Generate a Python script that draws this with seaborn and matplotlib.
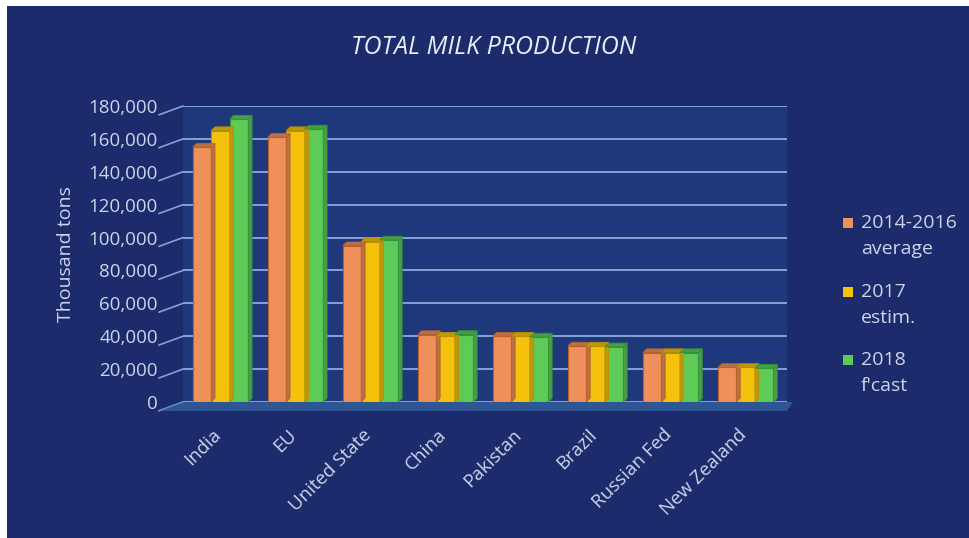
import matplotlib
matplotlib.use("Agg")
import matplotlib.pyplot as plt
from matplotlib.patches import Polygon, Rectangle
from matplotlib.lines import Line2D
from matplotlib.transforms import ScaledTranslation
import matplotlib.colors as mcolors
import seaborn as sns
import pandas as pd

# Milk production, thousand tons
countries = ["India", "EU", "United State", "China", "Pakistan", "Brazil",
             "Russian Fed", "New Zealand"]
avg_2014_2016 = [155000, 161000, 95000, 41000, 40000, 34000, 30000, 21000]
estim_2017 = [165000, 165000, 97500, 40000, 40000, 34000, 30000, 21000]
fcast_2018 = [172000, 166000, 98500, 41000, 39500, 33500, 30000, 20500]
series_labels = ["2014-2016\naverage", "2017\nestim.", "2018\nf'cast"]
yticks = [0, 20000, 40000, 60000, 80000, 100000, 120000, 140000, 160000, 180000]

colors = ["#ef905a", "#f4c20d", "#5ecb58"]
edge_colors = ["#b8602e", "#b88f00", "#34963a"]

df = pd.DataFrame({
    "country": countries * 3,
    "value": avg_2014_2016 + estim_2017 + fcast_2018,
    "series": [series_labels[0]] * 8 + [series_labels[1]] * 8 + [series_labels[2]] * 8,
})

sns.set_theme(style="white")
plt.rcParams["font.family"] = ["Open Sans", "DejaVu Sans"]

BG = "#1b2b6b"
WALL = "#1f387c"
GRID = "#84a2d6"
TXT = "#cdd4ea"

fig = plt.figure(figsize=(9.69, 5.38), dpi=100, facecolor="white")
# dark panel with a thin white margin on top and left
fig.patches.append(Rectangle((7 / 969, 0), 1 - 7 / 969, 1 - 6 / 538,
                             transform=fig.transFigure, facecolor=BG,
                             edgecolor="none", zorder=-10))

ax = fig.add_axes([183 / 969, 136 / 538, 604 / 969, 296 / 538])
ax.set_facecolor(WALL)

sns.barplot(data=df, x="country", y="value", hue="series", order=countries,
            hue_order=series_labels, palette=colors, width=0.74,
            saturation=1, legend=False, ax=ax, zorder=3)

ax.set_ylim(0, 180000)
ax.set_xlim(-0.5, 7.55)
ax.set_yticks(yticks)
ax.set_yticklabels([f"{v:,}" for v in yticks], color=TXT, fontsize=13.5)
ax.tick_params(axis="y", length=0, pad=18)
ax.tick_params(axis="x", length=0, pad=17)
shift = ScaledTranslation(-6 / 72, 0, fig.dpi_scale_trans)
for lab in ax.get_xticklabels():
    lab.set_rotation(45)
    lab.set_ha("right")
    lab.set_rotation_mode("anchor")
    lab.set_color(TXT)
    lab.set_fontsize(13.5)
    lab.set_transform(lab.get_transform() + shift)

ax.set_xlabel("")
ax.set_ylabel("Thousand tons", color=TXT, fontsize=14, labelpad=10)
for s in ax.spines.values():
    s.set_visible(False)

# horizontal gridlines plus short perspective strokes on the left
for v in yticks:
    ax.axhline(v, color=GRID, lw=1.4, zorder=1)
    yf = v / 180000
    ax.add_line(Line2D([-0.04, 0.0], [yf - 0.03, yf], transform=ax.transAxes,
                       color=GRID, lw=1.2, clip_on=False, zorder=1))

# floor band under the bars
ax.add_patch(Polygon([(-0.04, -0.03), (1.0, -0.03), (1.01, 0.0), (0.0, 0.0)],
                     closed=True, transform=ax.transAxes, facecolor="#33609f",
                     edgecolor="none", alpha=0.8, clip_on=False, zorder=2))

# depth faces for each bar
dx, dy = 0.05, 2300
for cont, c, ec in zip(ax.containers, colors, edge_colors):
    dark = mcolors.to_hex([v * 0.78 for v in mcolors.to_rgb(c)])
    for bar in cont:
        x0, w, h = bar.get_x(), bar.get_width(), bar.get_height()
        bar.set_edgecolor(ec)
        bar.set_linewidth(0.8)
        ax.add_patch(Polygon([(x0 + w, 0), (x0 + w + dx, dy), (x0 + w + dx, h + dy),
                              (x0 + w, h)], closed=True, facecolor=dark,
                             edgecolor=ec, lw=0.6, zorder=3))
        ax.add_patch(Polygon([(x0, h), (x0 + dx, h + dy), (x0 + w + dx, h + dy),
                              (x0 + w, h)], closed=True, facecolor=dark,
                             edgecolor=ec, lw=0.6, zorder=3))

fig.text(494 / 969, 1 - 47 / 538, "TOTAL MILK PRODUCTION", ha="center",
         va="center", color="#e9edf8", fontsize=18, fontstyle="italic")

# legend: colour square beside the first line of each two-line label
legend_tops = [223, 292, 360]
for c, lab, yc in zip(colors, series_labels, legend_tops):
    fig.patches.append(Rectangle((843 / 969, 1 - (yc + 5) / 538), 10 / 969, 10 / 538,
                                 transform=fig.transFigure, facecolor=c,
                                 edgecolor="none"))
    first, second = lab.split("\n")
    fig.text(861 / 969, 1 - yc / 538, first, ha="left", va="center",
             color=TXT, fontsize=14)
    fig.text(861 / 969, 1 - (yc + 26) / 538, second, ha="left", va="center",
             color=TXT, fontsize=14)

fig.savefig("out.png", dpi=100, facecolor=fig.get_facecolor())
